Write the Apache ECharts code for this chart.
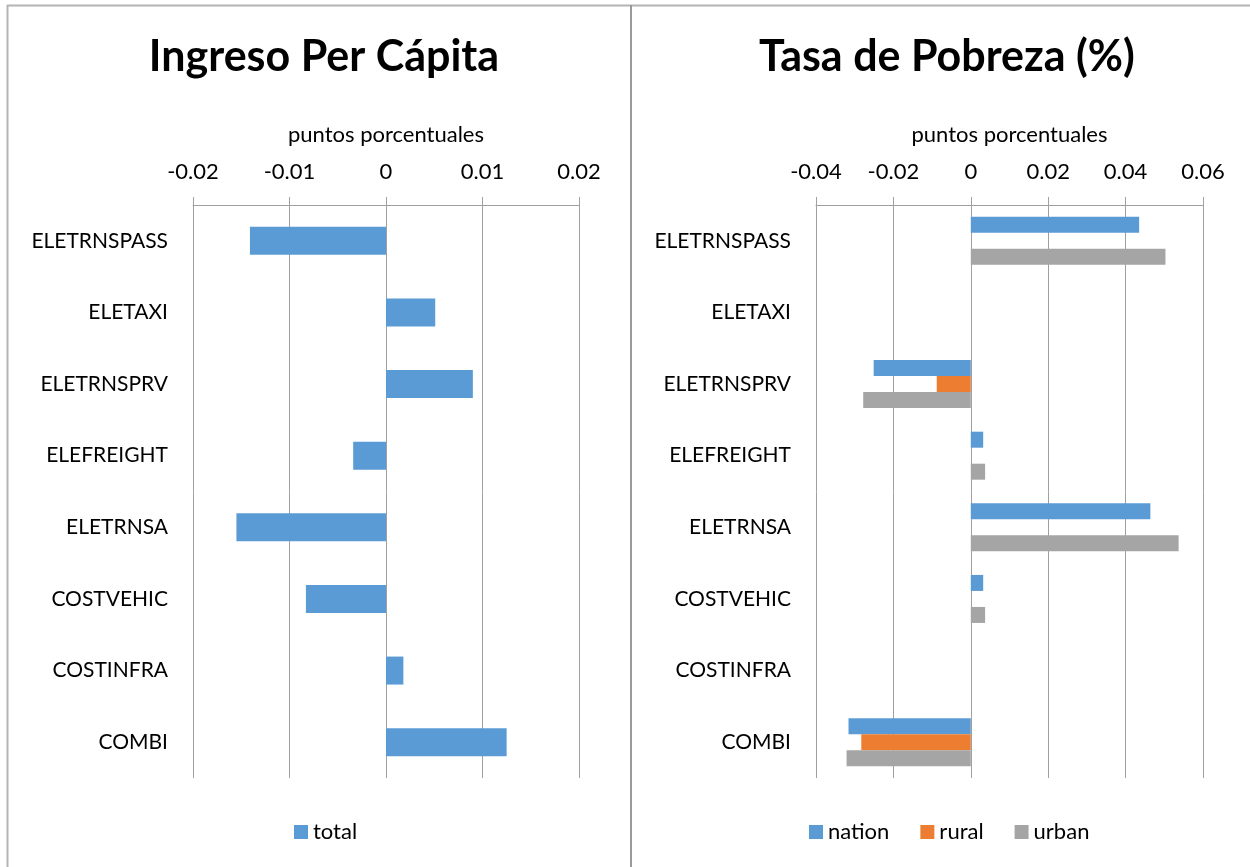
<!DOCTYPE html>
<html>
<head>
<meta charset="utf-8">
<script src="https://cdn.jsdelivr.net/npm/echarts@6/dist/echarts.min.js"></script>
<style>
  html, body { margin: 0; padding: 0; background: #fff; }
  #chart { width: 1250px; height: 867px; }
</style>
</head>
<body>
<div id="chart"></div>
<script>
// Categories shared by both panels (top to bottom)
const categories = ['ELETRNSPASS', 'ELETAXI', 'ELETRNSPRV', 'ELEFREIGHT', 'ELETRNSA', 'COSTVEHIC', 'COSTINFRA', 'COMBI'];

// Ingreso per cápita, puntos porcentuales
const incomeTotal = [-0.0141, 0.0051, 0.0090, -0.0034, -0.0155, -0.0083, 0.0018, 0.0125];

// Tasa de pobreza, puntos porcentuales
const povertyNation = [0.0435, 0, -0.0251, 0.0032, 0.0464, 0.0032, 0, -0.0316];
const povertyRural  = [0, 0, -0.0088, 0, 0, 0, 0, -0.0283];
const povertyUrban  = [0.0503, 0, -0.0278, 0.0037, 0.0537, 0.0037, 0, -0.0321];

const leftTicks = { min: -0.02, max: 0.02, interval: 0.01 };
const rightTicks = { min: -0.04, max: 0.06, interval: 0.02 };

const FONT = 'Lato';
const GRID_COLOR = '#a0a0a0';

function fmt(v) {
  const r = Math.round(v * 1000) / 1000;
  return r === 0 ? '0' : String(r);
}

function valueAxis(gridIndex, ticks) {
  return {
    type: 'value',
    gridIndex: gridIndex,
    position: 'top',
    min: ticks.min,
    max: ticks.max,
    interval: ticks.interval,
    name: 'puntos porcentuales',
    nameLocation: 'middle',
    nameGap: 59,
    nameTextStyle: { fontFamily: FONT, fontSize: 22, color: '#000' },
    axisLine: { show: true, lineStyle: { color: GRID_COLOR, width: 1 } },
    axisTick: { show: true, length: 8, lineStyle: { color: GRID_COLOR, width: 1 } },
    axisLabel: { margin: 22, fontFamily: FONT, fontSize: 22, color: '#000', formatter: fmt },
    splitLine: { show: true, lineStyle: { color: GRID_COLOR, width: 1 } }
  };
}

function categoryAxis(gridIndex) {
  return {
    type: 'category',
    gridIndex: gridIndex,
    data: categories,
    inverse: true,
    axisLine: { show: false },
    axisTick: { show: false },
    axisLabel: { margin: 25, fontFamily: FONT, fontSize: 21, color: '#000' },
    splitLine: { show: false }
  };
}

const chart = echarts.init(document.getElementById('chart'), null, { renderer: 'canvas' });

chart.setOption({
  backgroundColor: '#fff',
  animation: false,
  title: [
    { text: 'Ingreso Per Cápita', left: 319, top: 31, textAlign: 'center',
      textStyle: { fontFamily: FONT, fontWeight: 'bold', fontSize: 43, color: '#000' } },
    { text: 'Tasa de Pobreza (%)', left: 942, top: 31, textAlign: 'center',
      textStyle: { fontFamily: FONT, fontWeight: 'bold', fontSize: 43, color: '#000' } }
  ],
  legend: [
    { data: ['total'], left: 289, top: 816, itemWidth: 14, itemHeight: 14, icon: 'rect',
      textStyle: { fontFamily: FONT, fontSize: 22, color: '#000' } },
    { data: ['nation', 'rural', 'urban'], left: 804, top: 816, itemWidth: 14, itemHeight: 14,
      itemGap: 31, icon: 'rect',
      textStyle: { fontFamily: FONT, fontSize: 22, color: '#000' } }
  ],
  grid: [
    { left: 193, top: 205, width: 386, height: 573 },
    { left: 816, top: 205, width: 387, height: 573 }
  ],
  xAxis: [valueAxis(0, leftTicks), valueAxis(1, rightTicks)],
  yAxis: [categoryAxis(0), categoryAxis(1)],
  series: [
    { name: 'total', type: 'bar', xAxisIndex: 0, yAxisIndex: 0, data: incomeTotal,
      barWidth: 28, itemStyle: { color: '#5B9BD5' } },
    { name: 'nation', type: 'bar', xAxisIndex: 1, yAxisIndex: 1, data: povertyNation,
      barWidth: 16, barGap: '0%', itemStyle: { color: '#5B9BD5' } },
    { name: 'rural', type: 'bar', xAxisIndex: 1, yAxisIndex: 1, data: povertyRural,
      barWidth: 16, barGap: '0%', itemStyle: { color: '#ED7D31' } },
    { name: 'urban', type: 'bar', xAxisIndex: 1, yAxisIndex: 1, data: povertyUrban,
      barWidth: 16, barGap: '0%', itemStyle: { color: '#A5A5A5' } }
  ],
  graphic: [
    // panel frame
    { type: 'line', silent: true, shape: { x1: 7, y1: 5.5, x2: 1250, y2: 5.5 },
      style: { stroke: '#b4b4b4', lineWidth: 2 } },
    { type: 'line', silent: true, shape: { x1: 7.5, y1: 5, x2: 7.5, y2: 867 },
      style: { stroke: '#b4b4b4', lineWidth: 2 } },
    { type: 'line', silent: true, shape: { x1: 631, y1: 5, x2: 631, y2: 867 },
      style: { stroke: '#9a9a9a', lineWidth: 2 } }
  ]
});
</script>
</body>
</html>
